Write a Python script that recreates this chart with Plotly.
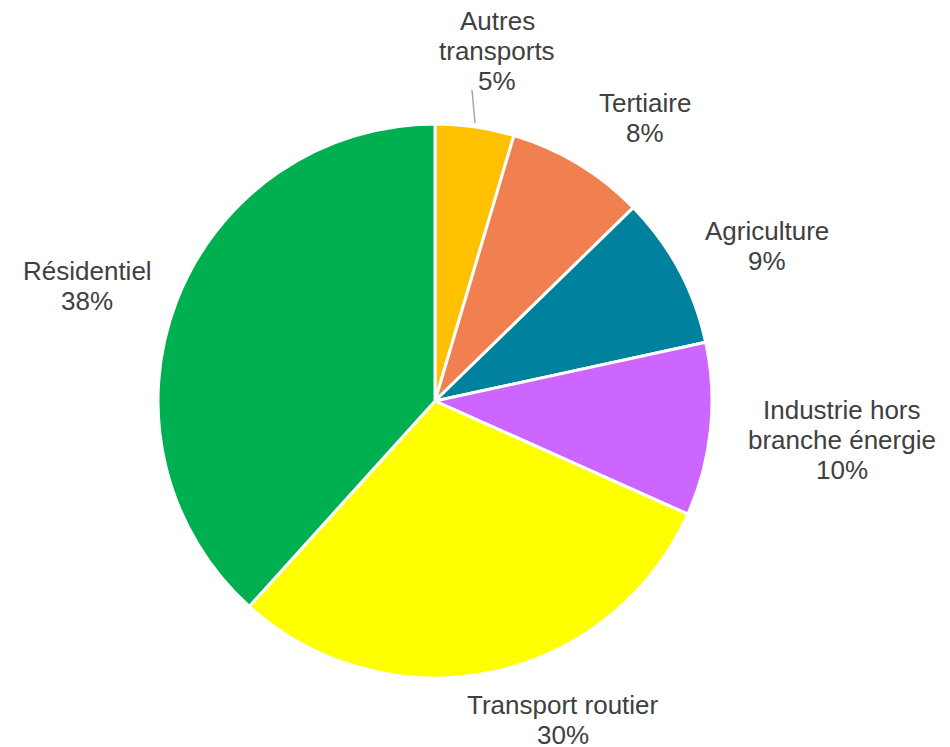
import plotly.graph_objects as go

labels = ["Autres transports", "Tertiaire", "Agriculture",
          "Industrie hors branche énergie", "Transport routier", "Résidentiel"]
values = [4.6, 8.1, 8.9, 10.1, 30.0, 38.3]
colors = ["#FFC000", "#F0804F", "#00819E", "#CC66FF", "#FFFF00", "#00B050"]

# label text lines (split as in the reference) and their centre positions in px
label_lines = [["Autres", "transports"], ["Tertiaire"], ["Agriculture"],
               ["Industrie hors", "branche énergie"], ["Transport routier"], ["Résidentiel"]]
label_pos = [(497, 21), (645, 103), (767, 231), (842, 410), (563, 705), (87, 271)]

W, H = 950, 747
OFF = 8  # page body margin offset
total = sum(values)
pcts = [f"{round(v / total * 100):.0f}%" for v in values]

cx0, cy0, R = 435 - OFF, 401 - OFF, 277
fig = go.Figure(go.Pie(
    labels=labels, values=values, sort=False, direction="clockwise", rotation=0,
    marker=dict(colors=colors, line=dict(color="white", width=3)),
    textinfo="none", hoverinfo="label+percent", showlegend=False,
    domain=dict(x=[(cx0 - R) / W, (cx0 + R) / W], y=[1 - (cy0 + R) / H, 1 - (cy0 - R) / H]),
))

LINE = 30
annotations = []
for lines, pct, (cx, cy) in zip(label_lines, pcts, label_pos):
    for i, t in enumerate(lines + [pct]):
        annotations.append(dict(
            x=(cx - OFF) / W, y=1 - (cy - OFF + i * LINE) / H, xref="paper", yref="paper",
            text=t, showarrow=False, xanchor="center", yanchor="middle",
            font=dict(family="Liberation Sans, Arial", size=26, color="#404040"),
        ))

fig.update_layout(
    width=W, height=H, margin=dict(l=0, r=0, t=0, b=0),
    paper_bgcolor="white", plot_bgcolor="white",
    annotations=annotations,
    shapes=[dict(type="line", xref="paper", yref="paper",
                 x0=(472 - OFF) / W, y0=1 - (90 - OFF) / H,
                 x1=(475 - OFF) / W, y1=1 - (123 - OFF) / H,
                 line=dict(color="#A6A6A6", width=1.5))],
)

fig.write_html("out.html")
